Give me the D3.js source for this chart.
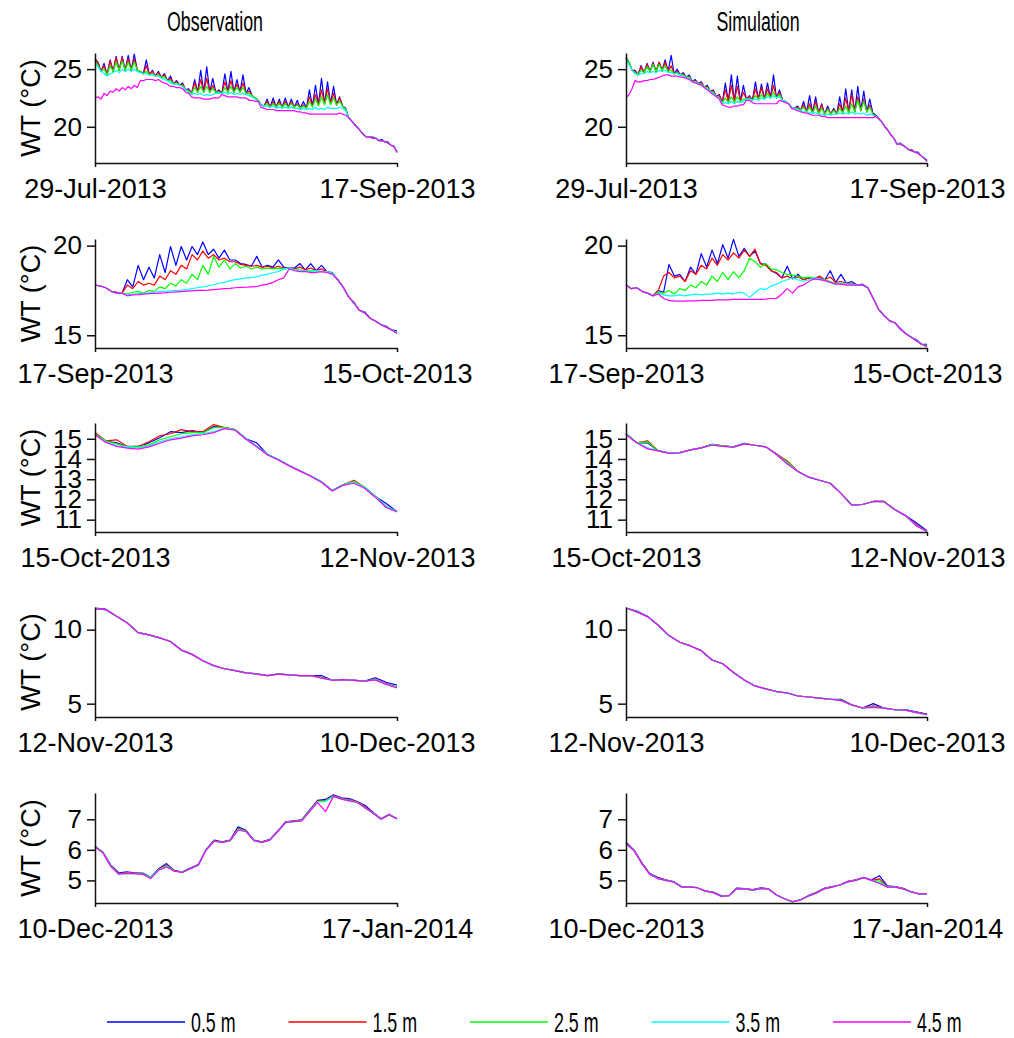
<!DOCTYPE html>
<html><head><meta charset="utf-8">
<script src="https://cdn.jsdelivr.net/npm/d3@7"></script>
<style>
body{margin:0;background:#fff}
svg{display:block}
text{font-family:"Liberation Sans",Arial,sans-serif;fill:#000}
</style>
</head><body>
<svg id="c" width="1014" height="1038"></svg>
<script>
// ---------- categories / labels ----------
const depths = ["0.5 m","1.5 m","2.5 m","3.5 m","4.5 m"];
const colors = ["#0000ff","#ff0000","#00ff00","#00ffff","#ff00ff"];
const columnTitles = ["Observation","Simulation"];
const periodDates = ["2013-07-29","2013-09-17","2013-10-15","2013-11-12","2013-12-10","2014-01-17"];
const stepHours = [12,12,24,24,24];
const yTicks = [[20,25],[15,20],[11,12,13,14,15],[5,10],[5,6,7]];
const yLimits = [[16.86,26.4],[14.29,20.37],[10.39,15.78],[4.10,11.53],[4.26,7.86]];
const yLabel = "WT (°C)";

// ---------- Row 1 : 29-Jul-2013 .. 17-Sep-2013 (12 h) ----------
const o1_05 = [25.9,25.6,24.8,25.5,24.5,25.8,24.8,26.1,24.9,26.1, 24.9,26.2,24.9,26.3,24.9,24.8,24.6,25.8,24.5,24.9, 24.4,24.8,24.3,24.6,24.0,24.4,23.7,24.0,23.6,23.8, 23.2,23.3,22.9,24.1,23.0,24.9,23.0,25.2,23.0,24.2, 23.0,23.2,22.9,24.6,23.0,24.8,23.0,24.1,23.0,24.5, 22.9,23.4,22.7,22.5,22.3,21.9,21.8,22.4,21.7,22.5, 21.7,22.4,21.7,22.5,21.7,22.4,21.7,22.3,21.6,22.2, 21.6,23.2,21.8,23.6,21.9,24.2,22.0,23.9,22.0,23.5, 21.9,22.6,21.8,21.6,20.8,20.5,20.2,19.9,19.6,19.3, 19.1,19.1,19.1,19.0,18.8,18.9,18.7,18.7,18.4,18.3, 17.8];
const o1_15 = [25.9,25.5,24.8,25.3,24.5,25.7,24.8,26.0,24.9,26.0, 24.9,25.9,24.9,25.9,24.9,24.8,24.6,25.3,24.5,24.8, 24.4,24.7,24.3,24.5,24.0,24.2,23.7,23.9,23.6,23.7, 23.2,23.2,22.9,23.8,23.0,24.1,23.0,24.2,23.0,23.6, 23.0,23.1,22.9,23.9,23.0,24.0,23.0,23.7,23.0,23.8, 22.9,23.1,22.7,22.5,22.3,21.9,21.8,22.2,21.7,22.2, 21.7,22.2,21.7,22.2,21.7,22.2,21.7,22.0,21.6,21.9, 21.6,22.6,21.8,22.8,21.9,23.2,22.0,23.3,22.0,22.9, 21.9,22.5,21.8,21.5,20.8,20.5,20.2,19.9,19.6,19.3, 19.1,19.1,19.0,19.0,18.8,18.8,18.7,18.6,18.4,18.3, 17.8];
const o1_25 = [25.7,25.3,24.8,25.0,24.5,25.3,24.8,25.6,24.9,25.7, 24.9,25.6,24.9,25.6,24.9,24.8,24.6,24.8,24.5,24.6, 24.4,24.5,24.3,24.3,24.0,24.0,23.7,23.8,23.6,23.6, 23.2,23.1,22.9,23.4,23.0,23.5,23.0,23.5,23.0,23.3, 23.0,23.0,22.9,23.4,23.0,23.5,23.0,23.4,23.0,23.4, 22.9,22.9,22.7,22.5,22.3,21.9,21.8,22.0,21.7,22.0, 21.7,22.0,21.7,22.0,21.7,22.0,21.7,21.9,21.6,21.8, 21.6,22.2,21.7,22.4,21.8,22.6,21.9,22.8,21.9,22.5, 21.9,22.2,21.8,21.5,20.8,20.5,20.2,19.9,19.6,19.3, 19.1,19.1,19.0,19.0,18.8,18.8,18.7,18.6,18.4,18.3, 17.8];
const o1_35 = [25.5,25.2,24.8,24.6,24.4,24.6,24.7,24.9,24.7,25.0, 24.8,25.0,24.8,25.0,24.8,24.7,24.6,24.6,24.5,24.5, 24.4,24.4,24.2,24.1,24.0,23.8,23.7,23.7,23.6,23.5, 23.2,23.0,22.8,22.9,22.8,22.9,22.7,22.8,22.7,22.8, 22.9,22.9,22.9,23.0,22.8,23.0,22.8,22.9,22.8,22.9, 22.8,22.7,22.6,22.4,22.2,21.9,21.8,21.8,21.7,21.8, 21.6,21.7,21.6,21.7,21.6,21.7,21.6,21.6,21.5,21.6, 21.5,21.6,21.5,21.7,21.5,21.6,21.5,21.7,21.6,21.6, 21.6,21.7,21.6,21.4,20.8,20.5,20.2,19.9,19.6,19.3, 19.1,19.1,19.0,19.0,18.8,18.8,18.7,18.6,18.4,18.3, 17.8];
const o1_45 = [22.5,22.6,22.4,22.9,22.7,23.1,23.0,23.3,23.1,23.4, 23.2,23.5,23.3,23.6,23.4,24.0,24.0,24.1,24.1,24.1, 24.0,24.1,23.9,23.8,23.7,23.5,23.5,23.4,23.4,23.3, 23.0,22.9,22.6,22.5,22.5,22.5,22.4,22.4,22.4,22.5, 22.5,22.5,22.8,22.7,22.6,22.6,22.6,22.6,22.5,22.5, 22.5,22.3,22.3,22.2,22.2,21.7,21.6,21.5,21.5,21.5, 21.4,21.4,21.4,21.4,21.4,21.4,21.4,21.3,21.3,21.2, 21.2,21.1,21.1,21.1,21.1,21.1,21.1,21.1,21.1,21.1, 21.1,21.2,21.1,21.0,20.8,20.5,20.2,19.9,19.6,19.3, 19.1,19.1,19.0,19.0,18.8,18.8,18.7,18.6,18.4,18.3, 17.8];

const s1_05 = [26.0,25.6,24.9,24.9,24.5,25.3,24.7,25.5,24.8,25.6, 24.8,25.6,24.9,25.8,24.8,26.2,24.6,25.0,24.5,24.7, 24.3,24.5,23.95,24.1,23.75,23.9,23.45,23.6,23.05,23.2, 22.65,22.8,22.1,23.8,22.2,24.5,22.2,24.4,22.2,23.6, 22.4,22.7,22.3,23.9,22.4,23.7,22.4,23.8,22.5,24.5, 22.5,23.2,22.3,22.2,22.0,21.7,21.6,21.8,21.4,22.2, 21.3,22.7,21.2,22.6,21.2,22.0,21.1,21.8,21.1,21.6, 21.1,22.6,21.2,23.3,21.3,23.2,21.3,23.5,21.4,23.1, 21.3,22.4,21.2,21.0,20.7,20.4,20.0,19.7,19.3,19.0, 18.5,18.6,18.4,18.2,18.0,18.0,17.8,17.8,17.5,17.3, 17.1];
const s1_15 = [26.0,25.6,24.9,24.8,24.5,25.2,24.7,25.4,24.8,25.5, 24.8,25.6,24.9,25.6,24.8,25.3,24.6,24.8,24.5,24.6, 24.3,24.4,23.95,24.0,23.75,23.8,23.45,23.5,23.05,23.1, 22.65,22.7,22.1,23.2,22.2,23.6,22.2,23.5,22.2,23.0, 22.4,22.6,22.3,23.3,22.4,23.4,22.4,23.3,22.5,23.6, 22.5,23.0,22.3,22.2,22.0,21.7,21.6,21.7,21.4,21.9, 21.3,22.0,21.2,22.2,21.2,21.9,21.1,21.6,21.1,21.5, 21.1,22.0,21.2,22.5,21.3,22.8,21.3,22.6,21.4,22.4, 21.3,21.9,21.1,20.9,20.7,20.4,20.0,19.7,19.3,19.0, 18.5,18.5,18.4,18.2,18.0,18.0,17.8,17.7,17.5,17.3, 17.0];
const s1_25 = [26.0,25.6,24.9,24.7,24.5,24.9,24.7,25.2,24.8,25.4, 24.8,25.4,24.9,25.3,24.8,24.9,24.6,24.7,24.5,24.5, 24.3,24.3,23.95,23.9,23.75,23.7,23.45,23.4,23.05,23.0, 22.65,22.5,22.1,22.5,22.1,22.6,22.1,22.6,22.2,22.4, 22.4,22.5,22.3,22.7,22.4,22.8,22.4,22.9,22.5,23.0, 22.5,22.8,22.3,22.2,22.0,21.7,21.6,21.6,21.4,21.7, 21.3,21.7,21.2,21.8,21.1,21.6,21.1,21.5,21.1,21.4, 21.1,21.6,21.2,21.8,21.2,22.0,21.3,22.3,21.4,22.2, 21.3,21.7,21.1,20.9,20.7,20.4,20.0,19.7,19.3,19.0, 18.5,18.5,18.4,18.2,18.0,17.9,17.8,17.7,17.5,17.3, 17.0];
const s1_35 = [25.8,25.4,24.9,24.6,24.5,24.6,24.6,24.8,24.7,24.8, 24.7,24.9,24.8,24.9,24.7,24.7,24.6,24.6,24.5,24.4, 24.3,24.2,23.95,23.85,23.75,23.65,23.45,23.3,23.05,22.9, 22.65,22.45,22.0,22.1,22.0,22.2,22.0,22.2,22.1,22.2, 22.4,22.4,22.3,22.4,22.3,22.5,22.4,22.6,22.5,22.7, 22.5,22.6,22.3,22.2,22.0,21.7,21.6,21.5,21.4,21.3, 21.3,21.2,21.2,21.2,21.1,21.1,21.0,21.1,21.0,21.1, 21.1,21.2,21.1,21.2,21.1,21.3,21.1,21.2,21.1,21.2, 21.0,21.1,21.0,20.9,20.7,20.4,20.0,19.7,19.3,19.0, 18.5,18.5,18.4,18.2,18.0,17.9,17.8,17.7,17.5,17.3, 17.0];
const s1_45 = [22.5,22.8,23.3,24.0,23.9,23.9,24.0,24.0,24.1,24.1, 24.2,24.3,24.4,24.5,24.5,24.4,24.4,24.4,24.3,24.3, 24.2,24.1,23.9,23.8,23.7,23.6,23.4,23.2,23.0,22.8, 22.6,22.4,21.9,21.8,21.7,21.7,21.8,21.8,21.9,21.9, 22.3,22.3,22.1,22.0,22.0,22.0,22.0,22.0,22.0,22.0, 22.0,22.3,22.2,22.1,22.0,21.6,21.5,21.4,21.3,21.2, 21.2,21.1,21.0,21.0,21.0,20.9,20.9,20.8,20.8,20.8, 20.8,20.8,20.8,20.8,20.8,20.8,20.8,20.8,20.8,20.8, 20.8,20.8,20.8,20.9,20.7,20.4,20.0,19.7,19.3,19.0, 18.5,18.5,18.4,18.2,18.0,17.9,17.8,17.7,17.5,17.3, 17.0];

// ---------- Row 2 : 17-Sep-2013 .. 15-Oct-2013 (12 h) ----------
const o2_05 = [17.8,17.75,17.65,17.45,17.4,17.35,18.1,17.7,18.9,18.1, 18.8,18.2,19.5,18.5,19.95,18.9,19.95,19.2,19.95,19.5, 20.2,19.5,19.8,19.3,19.75,19.2,19.2,19.0,18.95,18.85, 19.4,18.8,18.9,18.8,19.2,18.8,18.75,18.75,19.0,18.65, 19.0,18.6,18.9,18.55,18.5,18.1,17.7,17.15,16.85,16.4, 16.3,15.95,15.8,15.6,15.5,15.3,15.25];
const o2_15 = [17.8,17.75,17.65,17.45,17.4,17.35,17.8,17.6,18.0,17.8, 17.9,17.8,18.3,18.1,18.6,18.4,18.9,18.7,19.5,19.2, 19.7,19.3,19.5,19.2,19.3,19.1,19.1,18.95,18.9,18.85, 18.9,18.8,18.85,18.75,18.85,18.75,18.75,18.7,18.8,18.65, 18.75,18.6,18.7,18.55,18.45,18.1,17.7,17.15,16.8,16.4, 16.25,15.95,15.8,15.6,15.45,15.3,15.15];
const o2_25 = [17.8,17.75,17.65,17.45,17.35,17.35,17.3,17.4,17.45,17.35, 17.5,17.45,17.7,17.6,17.9,17.75,18.1,17.9,18.4,18.1, 18.9,18.4,19.4,18.8,19.2,18.7,19.0,18.75,18.85,18.7, 18.8,18.7,18.75,18.7,18.75,18.7,18.75,18.65,18.65,18.6, 18.6,18.6,18.55,18.55,18.45,18.1,17.7,17.15,16.8,16.4, 16.25,15.95,15.8,15.6,15.45,15.3,15.15];
const o2_35 = [17.8,17.75,17.65,17.45,17.35,17.35,17.25,17.3,17.32,17.35, 17.37,17.4,17.43,17.45,17.48,17.5,17.52,17.55,17.6,17.65, 17.7,17.75,17.82,17.9,17.95,18.05,18.1,18.15,18.2,18.22, 18.27,18.35,18.4,18.5,18.55,18.7,18.75,18.65,18.6,18.6, 18.55,18.6,18.55,18.55,18.45,18.1,17.7,17.15,16.8,16.4, 16.25,15.95,15.8,15.6,15.45,15.3,15.12];
const o2_45 = [17.8,17.75,17.65,17.45,17.35,17.35,17.2,17.25,17.27,17.3, 17.32,17.33,17.35,17.37,17.4,17.42,17.44,17.46,17.48,17.5, 17.5,17.52,17.55,17.57,17.6,17.62,17.65,17.67,17.68,17.7, 17.72,17.8,17.85,17.95,18.1,18.2,18.7,18.6,18.55,18.55, 18.5,18.5,18.55,18.5,18.4,18.1,17.7,17.15,16.8,16.4, 16.25,15.95,15.8,15.6,15.45,15.3,15.1];

const s2_05 = [17.8,17.6,17.65,17.45,17.35,17.2,17.5,17.4,18.95,18.3, 18.4,18.0,18.8,18.4,19.55,18.8,19.75,19.0,20.05,19.3, 20.35,19.4,19.85,19.4,19.7,19.0,18.95,18.6,18.45,18.2, 18.85,18.15,18.4,18.1,18.2,18.15,18.2,18.1,18.6,17.95, 18.4,17.9,18.0,17.8,17.85,17.65,17.05,16.45,16.1,15.82, 15.7,15.4,15.1,14.9,14.75,14.5,14.5];
const s2_15 = [17.8,17.6,17.65,17.45,17.35,17.2,17.5,18.3,18.5,18.2, 18.3,18.0,18.6,18.4,18.9,18.7,19.3,18.9,19.5,19.2, 19.6,19.3,19.75,19.4,19.8,19.0,18.9,18.6,18.5,18.2, 18.3,18.15,18.25,18.1,18.2,18.15,18.3,18.1,18.25,17.95, 18.0,17.9,17.9,17.8,17.8,17.65,17.05,16.45,16.1,15.82, 15.7,15.35,15.1,14.9,14.7,14.5,14.4];
const s2_25 = [17.8,17.6,17.65,17.45,17.35,17.2,17.4,17.35,17.5,17.3, 17.6,17.5,17.8,17.65,18.0,17.8,18.3,18.0,18.5,18.1, 18.55,18.2,18.6,19.3,19.1,18.8,19.0,18.7,18.65,18.5, 18.4,18.35,18.3,18.2,18.25,18.2,18.15,18.1,18.0,17.9, 17.9,17.85,17.85,17.8,17.8,17.65,17.05,16.45,16.1,15.82, 15.7,15.35,15.1,14.9,14.7,14.5,14.4];
const s2_35 = [17.8,17.6,17.65,17.45,17.35,17.2,17.35,17.25,17.2,17.2, 17.25,17.2,17.25,17.3,17.25,17.3,17.3,17.35,17.3,17.35, 17.3,17.4,17.35,17.1,17.4,17.6,17.55,17.75,17.85,18.0, 18.1,18.2,18.1,18.0,18.1,18.2,18.15,18.05,17.95,17.85, 17.9,17.85,17.85,17.8,17.8,17.65,17.05,16.45,16.1,15.82, 15.7,15.35,15.1,14.9,14.7,14.5,14.35];
const s2_45 = [17.8,17.6,17.65,17.45,17.35,17.2,17.3,17.05,16.95,16.9, 16.9,16.9,16.92,16.92,16.95,16.95,16.95,16.97,16.97,16.97, 17.0,17.0,17.0,17.0,17.0,17.0,17.02,17.05,17.05,17.3, 17.6,17.35,17.7,17.8,18.0,18.15,18.1,18.05,17.95,17.85, 17.85,17.8,17.8,17.8,17.8,17.65,17.05,16.45,16.1,15.82, 15.7,15.35,15.1,14.9,14.7,14.5,14.35];

// ---------- Row 3 : 15-Oct-2013 .. 12-Nov-2013 (24 h) ----------
const o3_05 = [15.3,14.88,14.8,14.6,14.62,14.8,15.05,15.35,15.3,15.4, 15.3,15.6,15.55,15.45,15.0,14.8,14.22,13.97,13.68,13.42, 13.16,12.87,12.44,12.72,12.9,12.6,12.15,11.8,11.4];
const o3_15 = [15.3,14.9,14.95,14.62,14.62,14.85,15.15,15.25,15.45,15.35, 15.35,15.7,15.55,15.45,15.0,14.62,14.22,13.97,13.68,13.42, 13.16,12.87,12.44,12.72,12.95,12.6,12.15,11.65,11.4];
const o3_25 = [15.25,14.9,14.75,14.62,14.6,14.7,14.95,15.1,15.25,15.3, 15.3,15.55,15.55,15.45,15.0,14.62,14.22,13.97,13.68,13.42, 13.16,12.87,12.44,12.72,12.9,12.6,12.15,11.65,11.4];
const o3_35 = [15.2,14.85,14.65,14.6,14.55,14.65,14.85,15.0,15.1,15.2, 15.25,15.35,15.52,15.44,15.0,14.62,14.22,13.97,13.68,13.42, 13.16,12.87,12.44,12.72,12.85,12.6,12.15,11.65,11.4];
const o3_45 = [15.2,14.82,14.62,14.54,14.49,14.6,14.78,14.95,15.03,15.14, 15.2,15.3,15.5,15.42,14.98,14.6,14.2,13.95,13.66,13.4, 13.15,12.85,12.42,12.7,12.8,12.55,12.1,11.6,11.38];

const s3_05 = [15.25,14.8,14.8,14.4,14.3,14.32,14.45,14.55,14.72,14.65, 14.6,14.78,14.68,14.6,14.25,13.85,13.38,13.1,12.95,12.8, 12.3,11.72,11.75,11.9,11.9,11.5,11.2,10.85,10.45];
const s3_15 = [15.25,14.8,14.9,14.4,14.3,14.32,14.45,14.55,14.72,14.65, 14.6,14.75,14.68,14.6,14.25,13.9,13.38,13.1,12.95,12.8, 12.3,11.72,11.75,11.9,11.9,11.5,11.2,10.75,10.42];
const s3_25 = [15.25,14.8,14.85,14.4,14.3,14.32,14.45,14.55,14.7,14.65, 14.58,14.75,14.68,14.6,14.22,13.85,13.38,13.1,12.95,12.8, 12.3,11.72,11.75,11.9,11.9,11.5,11.2,10.7,10.42];
const s3_35 = [15.22,14.8,14.55,14.4,14.3,14.3,14.45,14.55,14.7,14.62, 14.58,14.75,14.68,14.6,14.22,13.78,13.38,13.1,12.95,12.8, 12.3,11.72,11.75,11.9,11.88,11.5,11.2,10.7,10.42];
const s3_45 = [15.2,14.8,14.5,14.4,14.28,14.3,14.45,14.55,14.68,14.62, 14.58,14.75,14.68,14.6,14.22,13.75,13.38,13.1,12.95,12.8, 12.3,11.72,11.75,11.9,11.88,11.5,11.2,10.7,10.42];

// ---------- Row 4 : 12-Nov-2013 .. 10-Dec-2013 (24 h) ----------
const o4_05 = [11.45,11.38,10.9,10.45,9.8,9.65,9.44,9.2,8.62,8.33, 7.9,7.57,7.36,7.23,7.08,7.02,6.89,7.02,6.95,6.89, 6.9,6.9,6.58,6.62,6.6,6.52,6.75,6.45,6.25];
const o4_15 = [11.4,11.35,10.9,10.45,9.8,9.65,9.44,9.2,8.62,8.33, 7.9,7.57,7.36,7.23,7.08,7.0,6.89,7.0,6.95,6.89, 6.9,6.78,6.58,6.62,6.58,6.52,6.65,6.35,6.12];
const o4_25 = [11.4,11.35,10.9,10.45,9.8,9.65,9.44,9.2,8.62,8.33, 7.9,7.57,7.36,7.23,7.08,7.0,6.89,7.0,6.95,6.89, 6.9,6.75,6.58,6.62,6.58,6.52,6.62,6.32,6.1];
const o4_35 = [11.4,11.35,10.9,10.45,9.8,9.65,9.44,9.2,8.62,8.33, 7.9,7.57,7.36,7.23,7.08,7.0,6.89,7.0,6.95,6.89, 6.9,6.72,6.58,6.62,6.58,6.52,6.6,6.3,6.08];
const o4_45 = [11.4,11.35,10.9,10.45,9.8,9.65,9.44,9.2,8.62,8.33, 7.9,7.57,7.36,7.23,7.08,7.0,6.89,7.0,6.95,6.89, 6.9,6.72,6.58,6.62,6.58,6.52,6.6,6.3,6.06];

const s4_05 = [11.46,11.25,10.9,10.3,9.6,9.15,8.9,8.58,7.95,7.7, 7.1,6.6,6.2,6.0,5.82,5.72,5.52,5.45,5.38,5.3, 5.3,4.92,4.71,5.0,4.7,4.59,4.6,4.45,4.3];
const s4_15 = [11.46,11.2,10.88,10.3,9.6,9.15,8.9,8.58,7.95,7.7, 7.1,6.6,6.2,6.0,5.82,5.72,5.52,5.45,5.38,5.3, 5.25,4.92,4.71,4.85,4.7,4.59,4.57,4.42,4.26];
const s4_25 = [11.46,11.2,10.88,10.3,9.6,9.15,8.9,8.58,7.95,7.7, 7.1,6.6,6.2,6.0,5.82,5.72,5.52,5.45,5.38,5.3, 5.22,4.92,4.71,4.8,4.7,4.59,4.57,4.4,4.25];
const s4_35 = [11.46,11.2,10.88,10.3,9.6,9.15,8.9,8.58,7.95,7.7, 7.1,6.6,6.2,6.0,5.82,5.72,5.52,5.45,5.38,5.3, 5.2,4.92,4.71,4.77,4.7,4.59,4.57,4.4,4.25];
const s4_45 = [11.46,11.2,10.88,10.3,9.6,9.15,8.9,8.58,7.95,7.7, 7.1,6.6,6.2,6.0,5.82,5.72,5.52,5.45,5.38,5.3, 5.2,4.92,4.71,4.75,4.7,4.59,4.57,4.4,4.25];

// ---------- Row 5 : 10-Dec-2013 .. 17-Jan-2014 (24 h) ----------
const o5_05 = [6.12,5.92,5.5,5.25,5.28,5.25,5.24,5.1,5.38,5.55, 5.32,5.28,5.4,5.52,6.02,6.32,6.26,6.32,6.75,6.64, 6.32,6.26,6.34,6.62,6.92,6.95,6.98,7.3,7.62,7.65, 7.8,7.7,7.68,7.58,7.45,7.22,7.02,7.16,7.02];
const o5_15 = [6.1,5.92,5.48,5.22,5.25,5.24,5.22,5.08,5.36,5.5, 5.31,5.27,5.39,5.51,6.01,6.3,6.25,6.31,6.7,6.62, 6.31,6.25,6.33,6.61,6.91,6.94,6.97,7.28,7.6,7.62, 7.78,7.68,7.64,7.57,7.4,7.21,7.01,7.15,7.02];
const o5_25 = [6.1,5.91,5.47,5.21,5.24,5.23,5.21,5.1,5.35,5.48, 5.3,5.27,5.38,5.5,6.0,6.29,6.24,6.3,6.68,6.61, 6.3,6.24,6.32,6.6,6.9,6.93,6.96,7.27,7.58,7.6, 7.76,7.67,7.62,7.56,7.38,7.2,7.0,7.14,7.02];
const o5_35 = [6.09,5.9,5.46,5.2,5.23,5.22,5.2,5.08,5.34,5.46, 5.3,5.26,5.38,5.5,6.0,6.28,6.24,6.3,6.66,6.6, 6.3,6.24,6.32,6.6,6.9,6.92,6.95,7.26,7.57,7.58, 7.75,7.66,7.6,7.55,7.37,7.2,7.0,7.14,7.02];
const o5_45 = [6.09,5.9,5.45,5.2,5.23,5.22,5.2,5.06,5.33,5.44, 5.3,5.26,5.38,5.5,6.0,6.28,6.24,6.3,6.64,6.6, 6.3,6.24,6.32,6.6,6.9,6.92,6.95,7.25,7.55,7.25, 7.75,7.66,7.6,7.55,7.37,7.2,7.0,7.14,7.02];

const s5_05 = [6.25,6.0,5.58,5.22,5.1,5.02,4.96,4.8,4.8,4.76, 4.66,4.62,4.5,4.5,4.75,4.73,4.7,4.76,4.72,4.52, 4.4,4.3,4.36,4.5,4.6,4.74,4.8,4.85,4.97,5.02, 5.1,5.02,5.15,4.82,4.8,4.74,4.63,4.56,4.56];
const s5_15 = [6.22,5.99,5.57,5.21,5.08,5.01,4.95,4.79,4.79,4.76, 4.65,4.61,4.49,4.5,4.74,4.72,4.68,4.74,4.72,4.52, 4.4,4.3,4.36,4.49,4.59,4.73,4.79,4.85,4.96,5.01, 5.09,5.0,5.05,4.8,4.79,4.73,4.62,4.56,4.56];
const s5_25 = [6.21,5.98,5.56,5.2,5.07,5.0,4.95,4.78,4.78,4.76, 4.65,4.6,4.48,4.5,4.73,4.72,4.68,4.73,4.72,4.52, 4.4,4.3,4.36,4.48,4.58,4.72,4.78,4.85,4.95,5.0, 5.09,5.0,4.98,4.79,4.78,4.72,4.62,4.56,4.56];
const s5_35 = [6.2,5.98,5.55,5.2,5.06,5.0,4.95,4.78,4.78,4.76, 4.65,4.6,4.48,4.5,4.73,4.72,4.68,4.73,4.72,4.52, 4.4,4.3,4.36,4.48,4.58,4.72,4.78,4.85,4.95,5.0, 5.09,5.0,4.92,4.78,4.78,4.72,4.62,4.56,4.56];
const s5_45 = [6.2,5.98,5.55,5.2,5.06,5.0,4.95,4.78,4.78,4.76, 4.65,4.6,4.48,4.5,4.73,4.72,4.68,4.73,4.72,4.52, 4.4,4.3,4.36,4.48,4.58,4.72,4.78,4.85,4.95,5.0, 5.09,5.0,4.9,4.78,4.78,4.72,4.62,4.56,4.56];

// panels[row][column] -> series in depth order
const panels = [
  [[o1_05,o1_15,o1_25,o1_35,o1_45],[s1_05,s1_15,s1_25,s1_35,s1_45]],
  [[o2_05,o2_15,o2_25,o2_35,o2_45],[s2_05,s2_15,s2_25,s2_35,s2_45]],
  [[o3_05,o3_15,o3_25,o3_35,o3_45],[s3_05,s3_15,s3_25,s3_35,s3_45]],
  [[o4_05,o4_15,o4_25,o4_35,o4_45],[s4_05,s4_15,s4_25,s4_35,s4_45]],
  [[o5_05,o5_15,o5_25,o5_35,o5_45],[s5_05,s5_15,s5_25,s5_35,s5_45]]
];

// ---------- layout ----------
const FONT = "Liberation Sans, Arial, sans-serif";
const colX = [[95,397],[626,927]];
const rowY = [[53,163],[239,348],[423,532],[607,717],[793,903]];
const titleX = [215,758];
const NARROW = 0.66;

const svg = d3.select("#c");
const parse = d3.utcParse("%Y-%m-%d");
const fmt = d3.utcFormat("%d-%b-%Y");

columnTitles.forEach((t,c)=>{
  svg.append("text").attr("transform",`translate(${titleX[c]},31) scale(${NARROW},1)`)
    .attr("text-anchor","middle").attr("font-size",27).text(t);
});

panels.forEach((row,r)=>{
  const t0 = parse(periodDates[r]), t1 = parse(periodDates[r+1]);
  const stepMs = stepHours[r]*3600000;
  row.forEach((series,c)=>{
    const x = d3.scaleUtc().domain([t0,t1]).range(colX[c]);
    const y = d3.scaleLinear().domain(yLimits[r]).range([rowY[r][1],rowY[r][0]]);
    const g = svg.append("g");
    const line = d3.line()
      .x((v,i)=>x(new Date(t0.getTime()+i*stepMs)))
      .y(v=>y(v));
    series.forEach((vals,k)=>{
      g.append("path").attr("d",line(vals))
        .attr("fill","none").attr("stroke",colors[k])
        .attr("stroke-width",1.2).attr("stroke-linejoin","round");
    });
    const ya = g.append("g").attr("transform",`translate(${colX[c][0]},0)`)
      .call(d3.axisLeft(y).tickValues(yTicks[r]).tickSize(8).tickSizeOuter(0)
        .tickPadding(5).tickFormat(d3.format("d")));
    ya.attr("font-size",26).attr("font-family",FONT);
    ya.selectAll("path,line").attr("stroke","#111").attr("stroke-width",1.5);
    ya.selectAll("text").attr("fill","#000");
    const xa = g.append("g").attr("transform",`translate(0,${rowY[r][1]})`)
      .call(d3.axisBottom(x).tickValues([t0,t1]).tickSize(4).tickSizeOuter(0)
        .tickPadding(12).tickFormat(fmt));
    xa.attr("font-size",27).attr("font-family",FONT);
    xa.selectAll("path,line").attr("stroke","#111").attr("stroke-width",1.5);
    xa.selectAll("text").attr("fill","#000");
    if(c===0){
      const my = (rowY[r][0]+rowY[r][1])/2;
      svg.append("text").attr("transform",`translate(40,${my}) rotate(-90)`)
        .attr("text-anchor","middle").attr("font-size",27).text(yLabel);
    }
  });
});

// ---------- legend ----------
const lg = svg.append("g");
depths.forEach((d,k)=>{
  const lx = 107 + k*181.5;
  lg.append("line").attr("x1",lx).attr("x2",lx+78).attr("y1",1022).attr("y2",1022)
    .attr("stroke",colors[k]).attr("stroke-width",1.5);
  lg.append("text").attr("transform",`translate(${lx+84},1031.5) scale(${NARROW},1)`)
    .attr("font-size",27).text(d);
});
</script>
</body></html>
